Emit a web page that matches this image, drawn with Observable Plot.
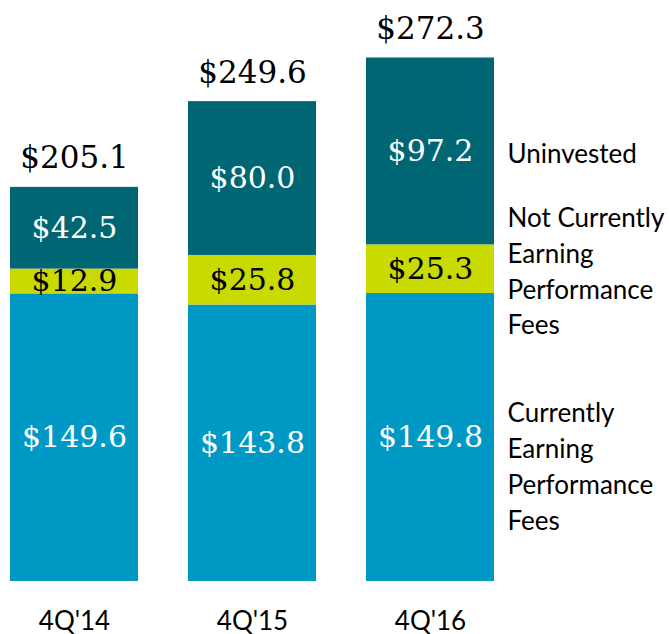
<!DOCTYPE html>
<html>
<head>
<meta charset="utf-8">
<script src="https://cdn.jsdelivr.net/npm/d3@7"></script>
<script src="https://cdn.jsdelivr.net/npm/@observablehq/plot@0.6"></script>
<style>
  html, body { margin: 0; padding: 0; background: #fff; }
</style>
</head>
<body>
<div id="chart"></div>
<script>
const categories = ["4Q'14", "4Q'15", "4Q'16"];
const earning = [149.6, 143.8, 149.8];
const notEarning = [12.9, 25.8, 25.3];
const uninvested = [42.5, 80.0, 97.2];
const totals = [205.1, 249.6, 272.3];
const seriesNames = ["Currently\nEarning\nPerformance\nFees", "Not Currently\nEarning\nPerformance\nFees", "Uninvested"];
const seriesColors = ["#0099c6", "#c8da00", "#006674"];
const labelColors = ["#ffffff", "#000000", "#ffffff"];

const seriesValues = [earning, notEarning, uninvested];
const rows = [];
seriesValues.forEach((vals, s) => {
  categories.forEach((c, i) => {
    rows.push({cat: c, value: vals[i], s, fill: seriesColors[s], tfill: labelColors[s], label: "$" + vals[i].toFixed(1)});
  });
});
const totalRows = categories.map((c, i) => ({cat: c, total: totals[i], label: "$" + totals[i].toFixed(1)}));
// legend anchored at last bar's segment midpoints
const last = categories.length - 1;
const legendRows = seriesNames.map((name, s) => {
  let base = 0;
  for (let k = 0; k < s; k++) base += seriesValues[k][last];
  return {name, y: base + seriesValues[s][last] / 2, s};
});

const serif = "'DejaVu Serif', 'Liberation Serif', serif";
const sans = "Lato, 'Open Sans', sans-serif";

const chart = Plot.plot({
  width: 669,
  height: 634,
  marginTop: 0,
  marginLeft: 0,
  marginRight: 162,
  marginBottom: 53,
  style: {fontFamily: sans, fontSize: "26px", color: "#000", background: "#fff"},
  x: {domain: categories, range: [10, 495], paddingInner: 0.28, paddingOuter: 0, label: null},
  y: {domain: [0, 272.3], range: [581, 57.5], axis: null},
  color: {type: "identity"},
  marks: [
    Plot.barY(rows, {x: "cat", y: "value", fill: "fill", order: null}),
    Plot.text(rows, Plot.stackY({x: "cat", y: "value", text: "label", fill: "tfill", order: null,
      fontFamily: serif, fontSize: 30, lineAnchor: "middle"})),
    Plot.text(totalRows, {x: "cat", y: "total", text: "label", fontFamily: serif, fontSize: 31,
      lineAnchor: "bottom", dy: -19, fill: "#000"}),
    Plot.text(legendRows.filter(d => d.s !== 0), {y: "y", text: "name", frameAnchor: "right", textAnchor: "start", dx: 0,
      fontFamily: sans, fontSize: 26, lineHeight: 1.38, lineAnchor: "middle", fill: "#000"}),
    Plot.text(legendRows.filter(d => d.s === 0), {y: "y", text: "name", frameAnchor: "right", textAnchor: "start", dx: 0,
      dy: 27, fontFamily: sans, fontSize: 26, lineHeight: 1.38, lineAnchor: "middle", fill: "#000"}),
    Plot.axisX({tickSize: 0, tickPadding: 30, fontSize: 26, fontFamily: sans, label: null})
  ]
});
document.getElementById("chart").appendChild(chart);
</script>
</body>
</html>
